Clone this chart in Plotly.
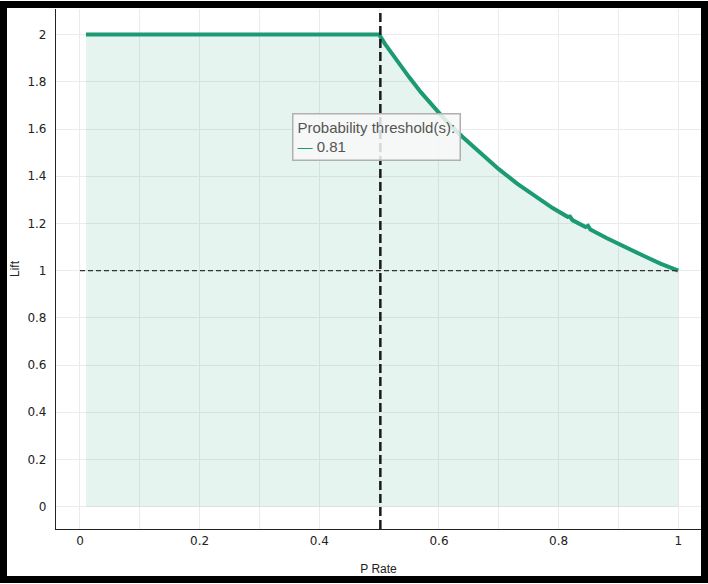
import plotly.graph_objects as go

# ---- data ----
p_rate = [0.01, 0.5, 0.51, 0.52, 0.535, 0.55, 0.57, 0.59, 0.61, 0.64, 0.67,
          0.7, 0.73, 0.76, 0.79, 0.815, 0.819, 0.823, 0.845, 0.849, 0.853,
          0.88, 0.91, 0.94, 0.97, 1.0]
lift = [2.0, 2.0, 1.96, 1.925, 1.87, 1.82, 1.755, 1.695, 1.64, 1.565, 1.495,
        1.43, 1.37, 1.315, 1.265, 1.228, 1.229, 1.214, 1.185, 1.19, 1.174,
        1.138, 1.1, 1.065, 1.03, 1.0]
threshold_label = "0.81"
threshold_x = 0.502
baseline_lift = 1.0
x_ticks = [0, 0.2, 0.4, 0.6, 0.8, 1]
y_ticks = [0, 0.2, 0.4, 0.6, 0.8, 1, 1.2, 1.4, 1.6, 1.8, 2]

GREEN = "#1b9a74"
W, H = 708, 584
ML, MR, MT, MB = 56, 7, 9, 55
PW, PH = W - ML - MR, H - MT - MB


def px_x(p):
    return (p - ML) / PW


def px_y(p):
    return (H - MB - p) / PH


fig = go.Figure()
fig.add_trace(go.Scatter(
    x=p_rate, y=lift, mode="lines",
    line=dict(color=GREEN, width=4),
    fill="tozeroy", fillcolor="rgba(27,158,119,0.11)",
    showlegend=False, hoverinfo="x+y",
))

# baseline lift = 1 (dashed)
fig.add_shape(type="line", xref="x", yref="y",
              x0=0, x1=1, y0=baseline_lift, y1=baseline_lift,
              line=dict(color="#333333", width=1.3, dash="5px,3px"))
# threshold vertical dashed line
fig.add_shape(type="line", xref="x", yref="paper",
              x0=threshold_x, x1=threshold_x, y0=0, y1=1,
              line=dict(color="#1a1a1a", width=2.5, dash="9px,4px"))

# legend-like box
fig.add_annotation(
    xref="paper", yref="paper", x=px_x(292), y=px_y(113),
    xanchor="left", yanchor="top", showarrow=False, align="left",
    text=f"Probability threshold(s):<br><span style='color:{GREEN}'>—</span> {threshold_label}",
    font=dict(family="Liberation Sans, Arial, sans-serif", size=15, color="#555555"),
    bgcolor="rgba(248,248,248,0.85)", bordercolor="#b0b0b0", borderwidth=1.5, borderpad=4,
)

# outer black frame
fig.add_shape(type="rect", xref="paper", yref="paper", layer="above",
              x0=px_x(3.5), x1=px_x(704.5), y0=px_y(579.5), y1=px_y(4.5),
              line=dict(color="black", width=7))

tick_font = dict(family="DejaVu Sans, Verdana, sans-serif", size=12, color="#222222")
title_font = dict(family="Liberation Sans, Arial, sans-serif", size=12, color="#222222")

fig.update_layout(
    width=W, height=H,
    margin=dict(l=ML, r=MR, t=MT, b=MB),
    paper_bgcolor="white", plot_bgcolor="white",
    showlegend=False,
    xaxis=dict(
        range=[-0.0401, 1.0379], tickvals=x_ticks,
        ticktext=[f"{v:g}" for v in x_ticks],
        showgrid=True, gridcolor="#ebebeb", gridwidth=1,
        minor=dict(dtick=0.1, showgrid=True, gridcolor="#ebebeb", gridwidth=1),
        zeroline=False, showline=True, linecolor="#222222", linewidth=1.2,
        ticks="", tickfont=tick_font,
        title=dict(text="P Rate", font=title_font, standoff=18),
    ),
    yaxis=dict(
        range=[-0.0945, 2.1085], tickvals=y_ticks,
        ticktext=[f"{v:g}" for v in y_ticks],
        showgrid=True, gridcolor="#ebebeb", gridwidth=1,
        zeroline=False, showline=True, linecolor="#222222", linewidth=1.2,
        ticks="", tickfont=tick_font, ticklabelstandoff=6,
        title=dict(text="Lift", font=title_font, standoff=5),
    ),
)

fig.write_html(
    "out.html",
    config={"displayModeBar": False},
    post_script="document.body.style.margin='0';document.body.style.overflow='hidden';",
)
